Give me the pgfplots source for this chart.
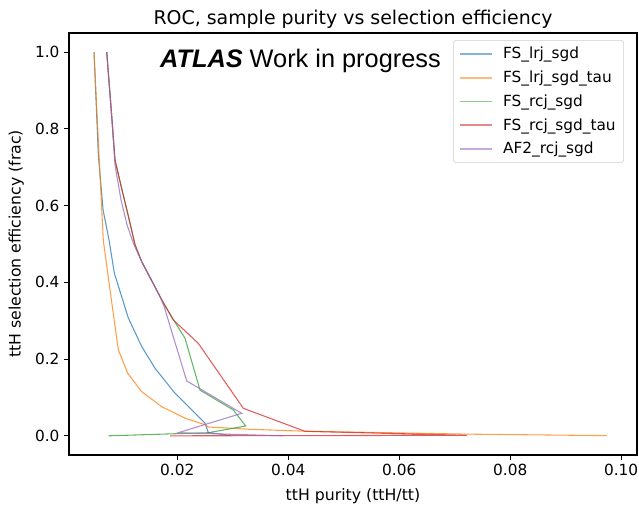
\documentclass[border=0pt]{standalone}
\usepackage{fontspec}
\setmainfont{DejaVu Sans}
\newfontfamily\atlasfont{Liberation Sans}
\usepackage{pgfplots}
\pgfplotsset{compat=1.18}
\usetikzlibrary{calc}

\definecolor{tabblue}{HTML}{1F77B4}
\definecolor{taborange}{HTML}{FF7F0E}
\definecolor{tabgreen}{HTML}{2CA02C}
\definecolor{tabred}{HTML}{D62728}
\definecolor{tabpurple}{HTML}{9467BD}

\begin{document}
\begin{tikzpicture}
\begin{axis}[
  name=ax,
  scale only axis, width=426pt, height=316.5pt,
  xmin=0.0005, xmax=0.10285, ymin=-0.05, ymax=1.05,
  xtick={0.02,0.04,0.06,0.08,0.10},
  xticklabels={0.02,0.04,0.06,0.08,0.10},
  ytick={0,0.2,0.4,0.6,0.8,1.0},
  yticklabels={0.0,0.2,0.4,0.6,0.8,1.0},
  tick align=outside, tick pos=left, major tick length=3.6pt,
  axis line style={line width=0.8pt},
  every tick/.style={black, line width=0.8pt},
  tick label style={font=\fontsize{11.5}{14}\selectfont},
  label style={font=\fontsize{11.8}{14}\selectfont},
  title={ROC, sample purity vs selection efficiency},
  title style={font=\fontsize{14.2}{17}\selectfont, at={(0.5,1)}, anchor=base, yshift=0.75pt},
  xlabel={ttH purity (ttH/tt)},
  xlabel style={at={(axis description cs:0.5,0)}, anchor=base, yshift=-34pt},
  ylabel={ttH selection efficiency (frac)},
  ylabel style={at={(axis description cs:-0.085,0.5)}, anchor=base},
  legend cell align=left,
  legend style={at={(rel axis cs:0.977,0.983)}, anchor=north east,
    draw=black!20, rounded corners=2pt, font=\fontsize{11.5}{14}\selectfont,
    row sep=3.6pt, inner xsep=4pt, inner ysep=3pt},
  legend image code/.code={%
    \draw[#1] (0pt,0pt) -- (24pt,0pt);
    \path (30pt,0pt);},
]
% curves (semi-transparent, thin)
\addplot[tabblue, line width=0.8pt, opacity=0.75, forget plot] coordinates {
(0.00501,1.0)(0.00579,0.732)(0.00664,0.589)(0.00772,0.510)(0.00867,0.424)
(0.01119,0.307)(0.01360,0.233)(0.01600,0.176)(0.01960,0.111)(0.02321,0.059)
(0.02501,0.033)(0.02560,0.0086)(0.02951,0.0013)};
\addplot[taborange, line width=0.8pt, opacity=0.75, forget plot] coordinates {
(0.00501,1.0)(0.00591,0.732)(0.00668,0.510)(0.00789,0.380)(0.00939,0.224)
(0.01108,0.163)(0.01360,0.115)(0.01721,0.076)(0.02141,0.046)(0.02501,0.029)
(0.02560,0.023)(0.03312,0.017)(0.04303,0.012)(0.07222,0.0044)(0.09744,0.0005)};
\addplot[tabgreen, line width=0.8pt, opacity=0.75, forget plot] coordinates {
(0.00730,1.0)(0.00825,0.823)(0.00879,0.719)(0.01005,0.641)(0.01114,0.576)
(0.01240,0.498)(0.01360,0.454)(0.01690,0.363)(0.01750,0.3455)(0.02141,0.254)
(0.02411,0.119)(0.03011,0.0673)(0.03234,0.0256)(0.02560,0.0081)(0.00759,0.0)};
\addplot[tabred, line width=0.8pt, opacity=0.75, forget plot] coordinates {
(0.00730,1.0)(0.00825,0.823)(0.00879,0.719)(0.01005,0.641)(0.01114,0.576)
(0.01240,0.498)(0.01360,0.454)(0.01690,0.363)(0.01930,0.302)(0.02380,0.241)
(0.03191,0.0717)(0.04303,0.0117)(0.07222,0.0013)(0.01870,0.0)};
\addplot[tabpurple, line width=0.8pt, opacity=0.75, forget plot] coordinates {
(0.00730,1.0)(0.00825,0.823)(0.00879,0.706)(0.00987,0.615)(0.01096,0.550)
(0.01209,0.502)(0.01360,0.454)(0.01690,0.363)(0.01762,0.338)(0.02171,0.143)
(0.03162,0.0587)(0.02020,0.0081)(0.03906,0.0)};
% legend
\addlegendimage{draw=tabblue!55, line width=1.4pt}
\addlegendentry{FS\_lrj\_sgd}
\addlegendimage{draw=taborange!55, line width=1.4pt}
\addlegendentry{FS\_lrj\_sgd\_tau}
\addlegendimage{draw=tabgreen!55, line width=1.4pt}
\addlegendentry{FS\_rcj\_sgd}
\addlegendimage{draw=tabred!55, line width=1.4pt}
\addlegendentry{FS\_rcj\_sgd\_tau}
\addlegendimage{draw=tabpurple!55, line width=1.4pt}
\addlegendentry{AF2\_rcj\_sgd}
\node[anchor=west, inner sep=0pt, font=\fontsize{19}{22}\selectfont\atlasfont]
  at (rel axis cs:0.160,0.934) {\textbf{\textit{ATLAS}} Work in progress};
\end{axis}
\pgfresetboundingbox
\path[use as bounding box] ($(ax.south west)+(-51.75pt,-36.75pt)$) rectangle ($(ax.north east)+(1.5pt,24.75pt)$);
\end{tikzpicture}
\end{document}
